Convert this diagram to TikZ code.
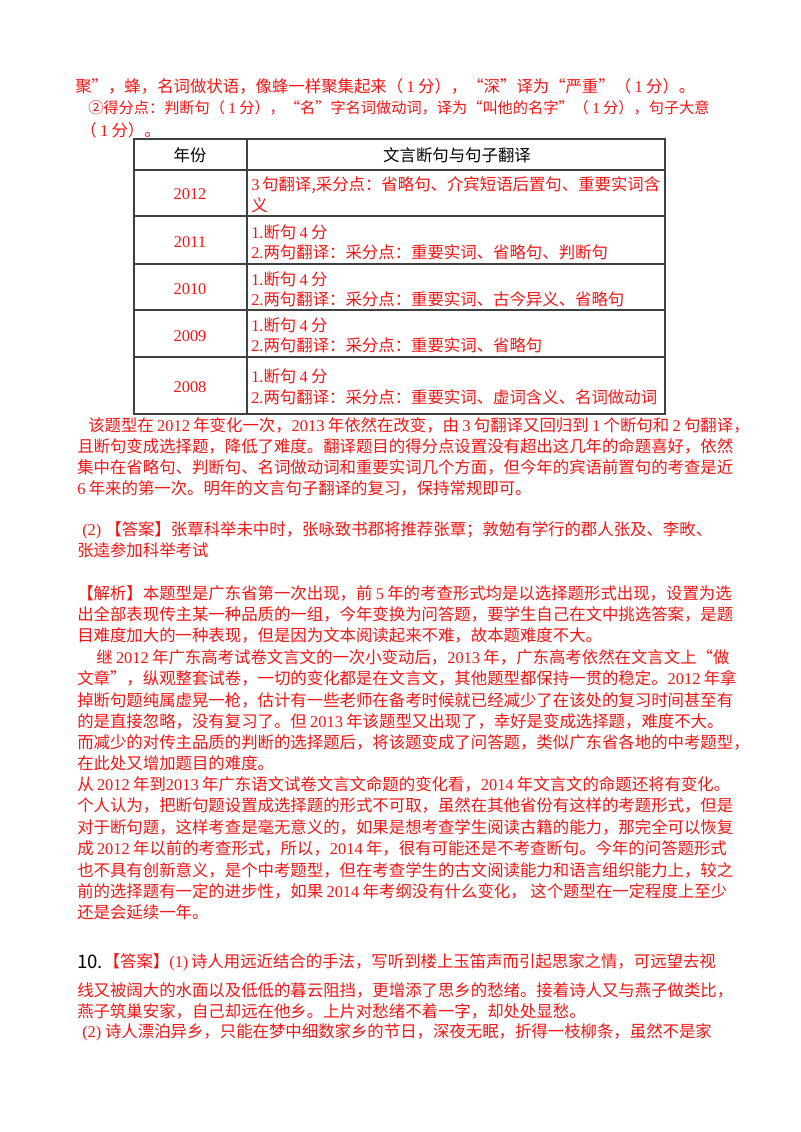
\documentclass[tikz,border=0pt]{standalone}
\usepackage{fontspec}
\setmainfont{Noto Sans CJK SC}
\newfontfamily\latf{Liberation Serif}
\definecolor{rd}{RGB}{245,20,20}
\newcommand{\nm}[1]{{\latf #1}}
\newcommand{\ns}[1]{\hspace{2.5pt}{\latf #1}\hspace{2.5pt}}
\begin{document}
\begin{tikzpicture}[x=0.75pt,y=-0.75pt,
  ln/.style={anchor=west,inner sep=0,text=rd,font=\fontsize{12.3}{14}\selectfont},
  yr/.style={anchor=center,inner sep=0,text=rd,font=\fontsize{12.3}{14}\selectfont\latf},
  grid/.style={draw=black!75,line width=0.9pt}]
\useasboundingbox (0,0) rectangle (800,1132);
\node[ln] (l1) at (75,86) {聚”，蜂，名词做状语，像蜂一样聚集起来（\ns{1}分），“深”译为“严重”（\ns{1}分）。};
\node[ln] (l2) at (88,108) {\fontsize{11.4}{14}\selectfont ②得分点：判断句（\ns{1}分），“名”字名词做动词，译为“叫他的名字”（\ns{1}分），句子大意};
\node[ln] (l3) at (80,130) {（\ns{1}分）。};
% table
\draw[grid] (134,139) rectangle (665,414);
\draw[grid] (247,139) -- (247,414);
\foreach \yy in {170,216,264,310,357} \draw[grid] (134,\yy) -- (665,\yy);
\node[ln,anchor=center,text=black] (h1) at (190,155) {年份};
\node[ln,anchor=center,text=black] (h2) at (457,155) {文言断句与句子翻译};
\node[yr] (y1) at (190,194) {2012};
\node[yr] (y2) at (190,242) {2011};
\node[yr] (y3) at (190,289) {2010};
\node[yr] (y4) at (190,336) {2009};
\node[yr] (y5) at (190,387) {2008};
\node[ln] (c1a) at (251,185) {\nm{3}\hspace{2pt}句翻译,采分点：省略句、介宾短语后置句、重要实词含};
\node[ln] (c1b) at (251,205) {义};
\node[ln] (c2a) at (251,232) {\nm{1.}断句\ns{4}分};
\node[ln] (c2b) at (251,252) {\nm{2.}两句翻译：采分点：重要实词、省略句、判断句};
\node[ln] (c3a) at (251,279) {\nm{1.}断句\ns{4}分};
\node[ln] (c3b) at (251,299) {\nm{2.}两句翻译：采分点：重要实词、古今异义、省略句};
\node[ln] (c4a) at (251,325) {\nm{1.}断句\ns{4}分};
\node[ln] (c4b) at (251,345) {\nm{2.}两句翻译：采分点：重要实词、省略句};
\node[ln] (c5a) at (251,376) {\nm{1.}断句\ns{4}分};
\node[ln] (c5b) at (251,397) {\nm{2.}两句翻译：采分点：重要实词、虚词含义、名词做动词};
% paragraph 1
\node[ln] (p1) at (88,425) {该题型在\ns{2012}年变化一次，\nm{2013}\hspace{2.5pt}年依然在改变，由\ns{3}句翻译又回归到\ns{1}个断句和\ns{2}句翻译，};
\node[ln] (p2) at (77,446) {且断句变成选择题，降低了难度。翻译题目的得分点设置没有超出这几年的命题喜好，依然};
\node[ln] (p3) at (77,467) {集中在省略句、判断句、名词做动词和重要实词几个方面，但今年的宾语前置句的考查是近};
\node[ln] (p4) at (77,488) {\nm{6}\hspace{2.5pt}年来的第一次。明年的文言句子翻译的复习，保持常规即可。};
\node[ln] (q1) at (82,530) {\nm{(2)}\hspace{3pt}【答案】张覃科举未中时，张咏致书郡将推荐张覃；敦勉有学行的郡人张及、李畋、};
\node[ln] (q2) at (77,550) {张逵参加科举考试};
\node[ln] (r1) at (77,593) {【解析】本题型是广东省第一次出现，前\ns{5}年的考查形式均是以选择题形式出现，设置为选};
\node[ln] (r2) at (77,614) {出全部表现传主某一种品质的一组，今年变换为问答题，要学生自己在文中挑选答案，是题};
\node[ln] (r3) at (77,635) {目难度加大的一种表现，但是因为文本阅读起来不难，故本题难度不大。};
\node[ln] (r4) at (96,657) {继\ns{2012}年广东高考试卷文言文的一次小变动后，\nm{2013}\hspace{2.5pt}年，广东高考依然在文言文上“做};
\node[ln] (r5) at (77,678) {文章”，纵观整套试卷，一切的变化都是在文言文，其他题型都保持一贯的稳定。\nm{2012}\hspace{2.5pt}年拿};
\node[ln] (r6) at (77,700) {掉断句题纯属虚晃一枪，估计有一些老师在备考时候就已经减少了在该处的复习时间甚至有};
\node[ln] (r7) at (77,721) {的是直接忽略，没有复习了。但\ns{2013}年该题型又出现了，幸好是变成选择题，难度不大。};
\node[ln] (r8) at (77,742) {而减少的对传主品质的判断的选择题后，将该题变成了问答题，类似广东省各地的中考题型，};
\node[ln] (r9) at (77,763) {在此处又增加题目的难度。};
\node[ln] (s1) at (77,784) {从\ns{2012}年到\nm{2013}\hspace{2.5pt}年广东语文试卷文言文命题的变化看，\nm{2014}\hspace{2.5pt}年文言文的命题还将有变化。};
\node[ln] (s2) at (77,805) {个人认为，把断句题设置成选择题的形式不可取，虽然在其他省份有这样的考题形式，但是};
\node[ln] (s3) at (77,827) {对于断句题，这样考查是毫无意义的，如果是想考查学生阅读古籍的能力，那完全可以恢复};
\node[ln] (s4) at (77,848) {成\ns{2012}年以前的考查形式，所以，\nm{2014}\hspace{2.5pt}年，很有可能还是不考查断句。今年的问答题形式};
\node[ln] (s5) at (77,870) {也不具有创新意义，是个中考题型，但在考查学生的古文阅读能力和语言组织能力上，较之};
\node[ln] (s6) at (77,891) {前的选择题有一定的进步性，如果\ns{2014}年考纲没有什么变化，\ 这个题型在一定程度上至少};
\node[ln] (s7) at (77,912) {还是会延续一年。};
% question 10
\node[ln,text=black,font=\fontsize{14}{16}\selectfont] (t0) at (77,962) {10.};
\node[ln] (t1) at (t0.east) {【答案】\nm{(1)}\hspace{2pt}诗人用远近结合的手法，写听到楼上玉笛声而引起思家之情，可远望去视};
\node[ln] (t2) at (77,990) {线又被阔大的水面以及低低的暮云阻挡，更增添了思乡的愁绪。接着诗人又与燕子做类比，};
\node[ln] (t3) at (77,1011) {燕子筑巢安家，自己却远在他乡。上片对愁绪不着一字，却处处显愁。};
\node[ln] (t4) at (82,1032) {\nm{(2)}\ 诗人漂泊异乡，只能在梦中细数家乡的节日，深夜无眠，折得一枝柳条，虽然不是家};
\end{tikzpicture}
\end{document}
